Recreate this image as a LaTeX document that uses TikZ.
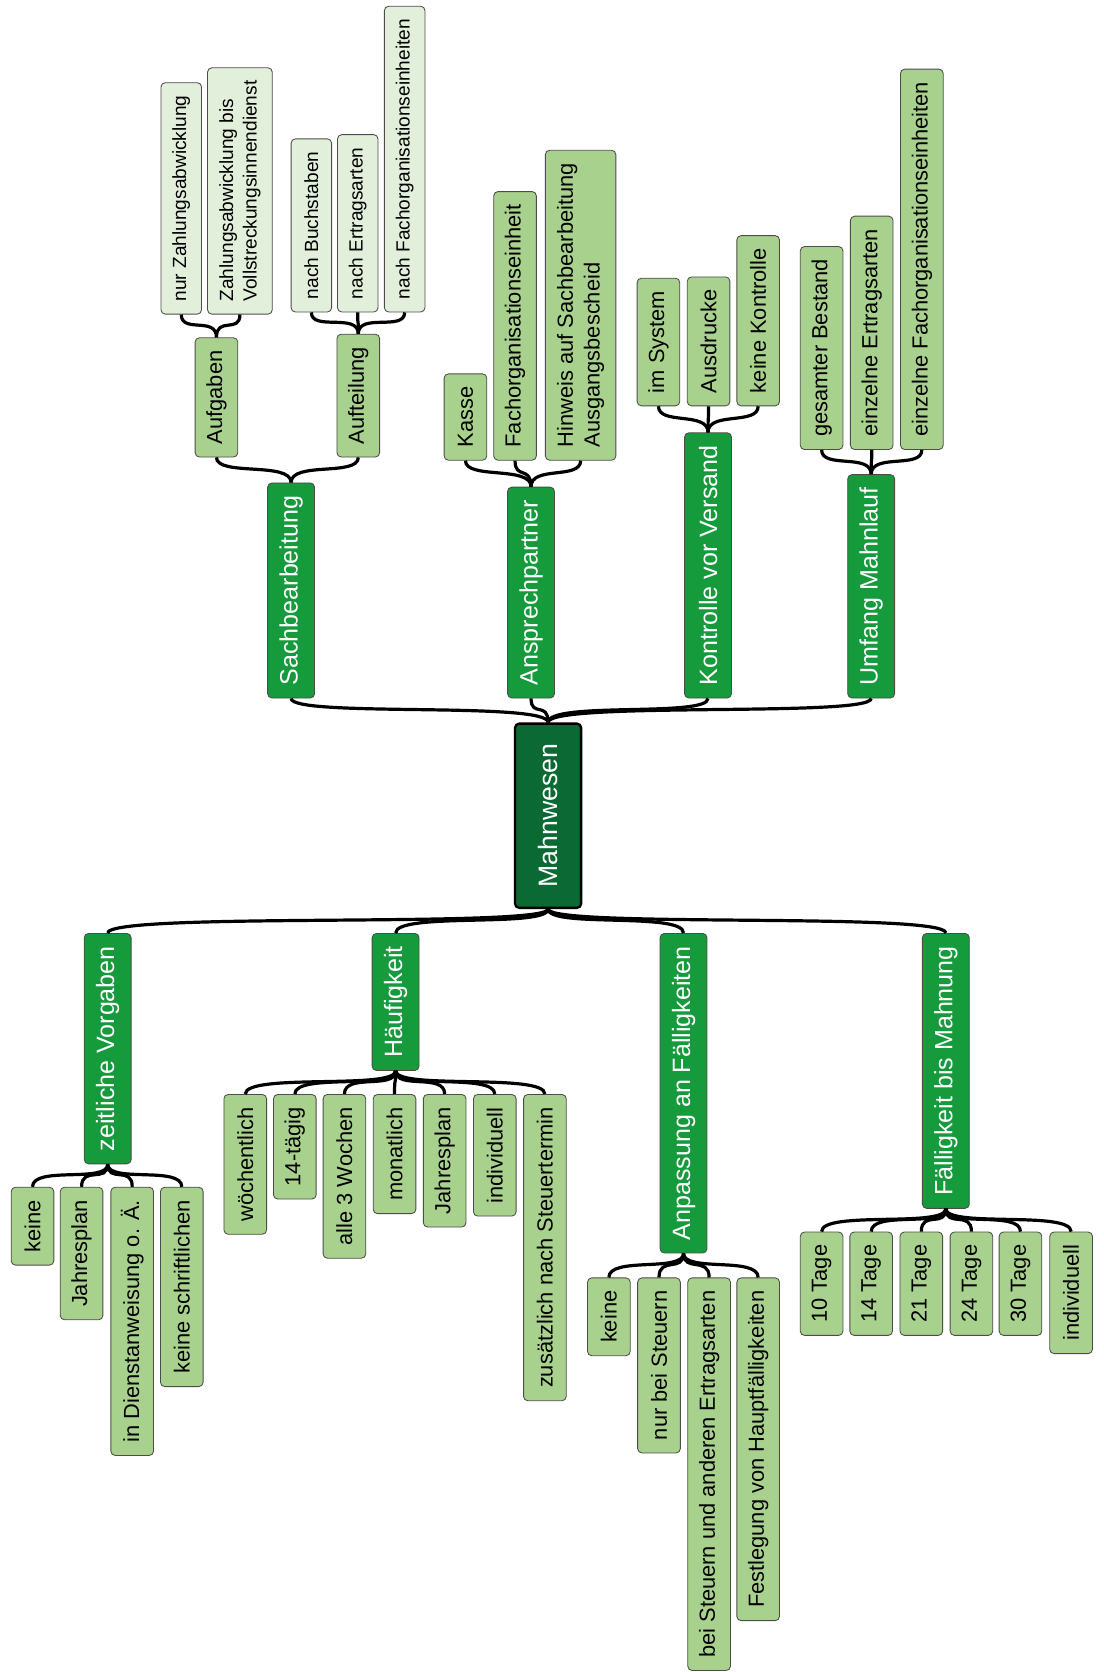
\documentclass[tikz,border=0pt]{standalone}
\usepackage{fontspec}
\setmainfont{Liberation Sans}
\definecolor{rootgreen}{HTML}{0B6A33}
\definecolor{catgreen}{HTML}{159A3C}
\definecolor{subgreen}{HTML}{A9D18E}
\definecolor{leafgreen}{HTML}{E2EFDA}

\begin{document}
\begin{tikzpicture}
      [x=1pt,y=1pt,
       box/.style={rotate=90,rounded corners=4pt,draw=black!70,line width=0.8pt,
                   inner xsep=12pt,inner ysep=0pt,align=left},
       rootbox/.style={box,fill=rootgreen,text=white,draw=black,line width=2.2pt,
                   minimum height=62pt,inner xsep=19pt,font=\fontsize{25}{30}\selectfont},
       cat/.style={box,fill=catgreen,text=white,minimum height=44pt,font=\fontsize{23.5}{28}\selectfont},
       sub/.style={box,fill=subgreen,minimum height=40pt,font=\fontsize{20.5}{25}\selectfont},
       leaf/.style={box,fill=leafgreen,minimum height=38pt,font=\fontsize{17.9}{22}\selectfont},
       link/.style={line width=3pt,out=-90,in=90,out distance=18pt,in distance=20pt}]
      \useasboundingbox (0,0) rectangle (1035,1568);

      \node[rootbox] (mahn) at (514,803) {Mahnwesen};

      % upper half
      \node[cat,anchor=west] (sach) at (273,913) {Sachbearbeitung};
      \node[cat,anchor=west] (ansp) at (498,913) {Ansprechpartner};
      \node[cat,anchor=west] (kontr) at (664,913) {Kontrolle vor Versand};
      \node[cat,anchor=west] (umf) at (817,913) {Umfang Mahnlauf};

      \node[sub,anchor=west] (aufg) at (203,1139) {Aufgaben};
      \node[sub,anchor=west] (auft) at (336,1139) {Aufteilung};
      \node[leaf,anchor=west] (nurz) at (170,1273) {nur Zahlungsabwicklung};
      \node[leaf,anchor=west,inner ysep=11pt] (zbis) at (225,1273) {Zahlungsabwicklung bis\\Vollstreckungsinnendienst};
      \node[leaf,anchor=west] (nbuch) at (292,1275) {nach Buchstaben};
      \node[leaf,anchor=west] (nertr) at (335.5,1275) {nach Ertragsarten};
      \node[leaf,anchor=west] (nfach) at (379.5,1275) {nach Fachorganisationseinheiten};

      \node[sub,anchor=west] (kasse) at (436.5,1136) {Kasse};
      \node[sub,anchor=west] (fachein) at (483,1136) {Fachorganisationseinheit};
      \node[sub,anchor=west,inner ysep=11pt] (hinw) at (544.5,1136) {Hinweis auf Sachbearbeitung\\Ausgangsbescheid};

      \node[sub,anchor=west] (imsys) at (617.5,1187) {im System};
      \node[sub,anchor=west] (ausdr) at (664.5,1187) {Ausdrucke};
      \node[sub,anchor=west] (keink) at (711,1187) {keine Kontrolle};

      \node[sub,anchor=west] (gesb) at (770.5,1146) {gesamter Bestand};
      \node[sub,anchor=west] (einze) at (817.5,1146) {einzelne Ertragsarten};
      \node[sub,anchor=west] (einzf) at (864.5,1146) {einzelne Fachorganisationseinheiten};

      % lower half
      \node[cat,anchor=east] (zeit) at (101,693) {zeitliche Vorgaben};
      \node[cat,anchor=east] (haeuf) at (371,693) {Häufigkeit};
      \node[cat,anchor=east] (anp) at (641,693) {Anpassung an Fälligkeiten};
      \node[cat,anchor=east] (faell) at (887,693) {Fälligkeit bis Mahnung};

      \node[sub,anchor=east] (zkeine) at (30.5,455) {keine};
      \node[sub,anchor=east] (zjahr) at (76.5,455) {Jahresplan};
      \node[sub,anchor=east] (zdienst) at (124,455) {in Dienstanweisung o. Ä.};
      \node[sub,anchor=east] (zschrift) at (170.5,455) {keine schriftlichen};

      \node[sub,anchor=east] (hwoch) at (230,542) {wöchentlich};
      \node[sub,anchor=east] (h14) at (276.5,542) {14-tägig};
      \node[sub,anchor=east] (h3w) at (323,542) {alle 3 Wochen};
      \node[sub,anchor=east] (hmon) at (370,542) {monatlich};
      \node[sub,anchor=east] (hjahr) at (417,542) {Jahresplan};
      \node[sub,anchor=east] (hind) at (464,542) {individuell};
      \node[sub,anchor=east] (hzus) at (511,542) {zusätzlich nach Steuertermin};

      \node[sub,anchor=east] (akeine) at (571,370) {keine};
      \node[sub,anchor=east] (asteu) at (618,370) {nur bei Steuern};
      \node[sub,anchor=east] (aertr) at (665,370) {bei Steuern und anderen Ertragsarten};
      \node[sub,anchor=east] (afest) at (711,370) {Festlegung von Hauptfälligkeiten};

      \node[sub,anchor=east] (f10) at (770.5,413) {10 Tage};
      \node[sub,anchor=east] (f14) at (817,413) {14 Tage};
      \node[sub,anchor=east] (f21) at (864,413) {21 Tage};
      \node[sub,anchor=east] (f24) at (911,413) {24 Tage};
      \node[sub,anchor=east] (f30) at (957,413) {30 Tage};
      \node[sub,anchor=east] (find) at (1004.5,413) {individuell};

      \foreach \from/\to in {sach/mahn, ansp/mahn, kontr/mahn, umf/mahn,
                             aufg/sach, auft/sach, nurz/aufg, zbis/aufg,
                             nbuch/auft, nertr/auft, nfach/auft,
                             kasse/ansp, fachein/ansp, hinw/ansp,
                             imsys/kontr, ausdr/kontr, keink/kontr,
                             gesb/umf, einze/umf, einzf/umf,
                             mahn/zeit, mahn/haeuf, mahn/anp, mahn/faell,
                             zeit/zkeine, zeit/zjahr, zeit/zdienst, zeit/zschrift,
                             haeuf/hwoch, haeuf/h14, haeuf/h3w, haeuf/hmon,
                             haeuf/hjahr, haeuf/hind, haeuf/hzus,
                             anp/akeine, anp/asteu, anp/aertr, anp/afest,
                             faell/f10, faell/f14, faell/f21, faell/f24,
                             faell/f30, faell/find}
      \draw[link] (\from.west) to (\to.east);
    \end{tikzpicture}
\end{document}
